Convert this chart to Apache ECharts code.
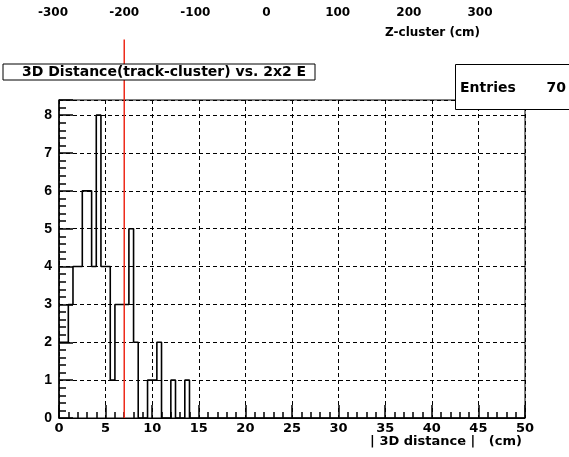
<!DOCTYPE html>
<html>
<head>
<meta charset="utf-8">
<script src="https://cdn.jsdelivr.net/npm/echarts@6/dist/echarts.min.js"></script>
<style>
html,body{margin:0;padding:0;background:#fff;}
#chart{width:569px;height:457px;}
</style>
</head>
<body>
<div id="chart"></div>
<script>
// ---- data ----
const binWidth = 0.5; // cm
const counts = [2,2,3,4,4,6,6,4,8,4,4,1,3,3,3,5,2,0,0,1,1,2,0,0,1,0,0,1,0];
const xRange = [0, 50];
const yRange = [0, 8.4];
const cutValue = 7;          // red vertical line (cm)
const cutTop = 10;
const zTicks = [-300, -200, -100, 0, 100, 200, 300];
const entries = 70;
const titleText = '3D Distance(track-cluster) vs. 2x2 E';
const xName = '| 3D distance |   (cm)';
const zName = 'Z-cluster (cm)';

const histData = counts.map((c, i) => [i * binWidth, c]);
histData.push([counts.length * binWidth, 0]);
histData.push([xRange[1], 0]);

const FONT = 'Liberation Sans, Arial, Helvetica, sans-serif';
const WIDE = 'DejaVu Sans, Liberation Sans, sans-serif';

const chart = echarts.init(document.getElementById('chart'));
chart.setOption({
  animation: false,
  backgroundColor: '#fff',
  grid: [
    {left: 59, right: 44, top: 100, bottom: 39, show: true, borderColor: '#000', borderWidth: 1, backgroundColor: 'transparent'},
    {left: 53, right: 89, top: 6, height: 1, show: false}
  ],
  xAxis: [
    {
      gridIndex: 0, type: 'value', min: xRange[0], max: xRange[1], interval: 5,
      axisLine: {show: true, lineStyle: {color: '#000', width: 1}},
      axisTick: {show: true, inside: true, length: 13, lineStyle: {color: '#000', width: 1.5}},
      minorTick: {show: true, splitNumber: 5, length: 6, lineStyle: {color: '#000', width: 1.5}},
      splitLine: {show: true, lineStyle: {color: '#000', type: [4, 3], width: 1}},
      axisLabel: {color: '#000', fontFamily: WIDE, fontSize: 13, fontWeight: 'bold', margin: 4}
    },
    {
      gridIndex: 1, type: 'value', min: zTicks[0], max: zTicks[zTicks.length - 1], interval: 100,
      axisLine: {show: false}, axisTick: {show: false}, splitLine: {show: false},
      axisLabel: {color: '#000', fontFamily: WIDE, fontSize: 12, fontWeight: 'bold', margin: 0}
    }
  ],
  yAxis: [
    {
      gridIndex: 0, type: 'value', min: yRange[0], max: yRange[1], interval: 1,
      axisLine: {show: true, lineStyle: {color: '#000', width: 1.5}},
      axisTick: {show: true, inside: true, length: 14, lineStyle: {color: '#000', width: 1.5}},
      minorTick: {show: true, splitNumber: 5, length: 7, lineStyle: {color: '#000', width: 1.5}},
      splitLine: {show: true, lineStyle: {color: '#000', type: [4, 3], width: 1}},
      axisLabel: {color: '#000', fontFamily: FONT, fontSize: 14, fontWeight: 'bold', margin: 7, showMaxLabel: false}
    },
    {gridIndex: 1, type: 'value', show: false}
  ],
  series: [
    {
      type: 'line', xAxisIndex: 0, yAxisIndex: 0, data: histData, step: 'end',
      symbol: 'none', lineStyle: {color: '#000', width: 1.6}, z: 5
    },
    {
      type: 'line', xAxisIndex: 0, yAxisIndex: 0, data: [[cutValue, 0], [cutValue, cutTop]],
      symbol: 'none', clip: false, lineStyle: {color: '#ee2a1a', width: 1.5}, z: 6
    }
  ],
  graphic: [
    {type: 'rect', z: 100, shape: {x: 3, y: 64, width: 312, height: 16}, style: {fill: '#fff', stroke: '#000', lineWidth: 1}},
    {type: 'text', z: 101, x: 22, y: 72, style: {text: titleText, fill: '#000', font: 'bold 14px ' + WIDE, textVerticalAlign: 'middle'}},
    {type: 'rect', z: 100, shape: {x: 455.5, y: 64.5, width: 130, height: 45}, style: {fill: '#fff', stroke: '#000', lineWidth: 1}},
    {type: 'text', z: 101, x: 460, y: 88, style: {text: 'Entries', fill: '#000', font: 'bold 14px ' + WIDE, textVerticalAlign: 'middle'}},
    {type: 'text', z: 101, x: 566, y: 88, style: {text: String(entries), fill: '#000', font: 'bold 14px ' + WIDE, textAlign: 'right', textVerticalAlign: 'middle'}},
    {type: 'text', z: 101, x: 522, y: 442, style: {text: xName, fill: '#000', font: 'bold 13px ' + WIDE, textAlign: 'right', textVerticalAlign: 'middle'}},
    {type: 'text', z: 101, x: 480, y: 33, style: {text: zName, fill: '#000', font: 'bold 12px ' + WIDE, textAlign: 'right', textVerticalAlign: 'middle'}}
  ]
});
</script>
</body>
</html>
